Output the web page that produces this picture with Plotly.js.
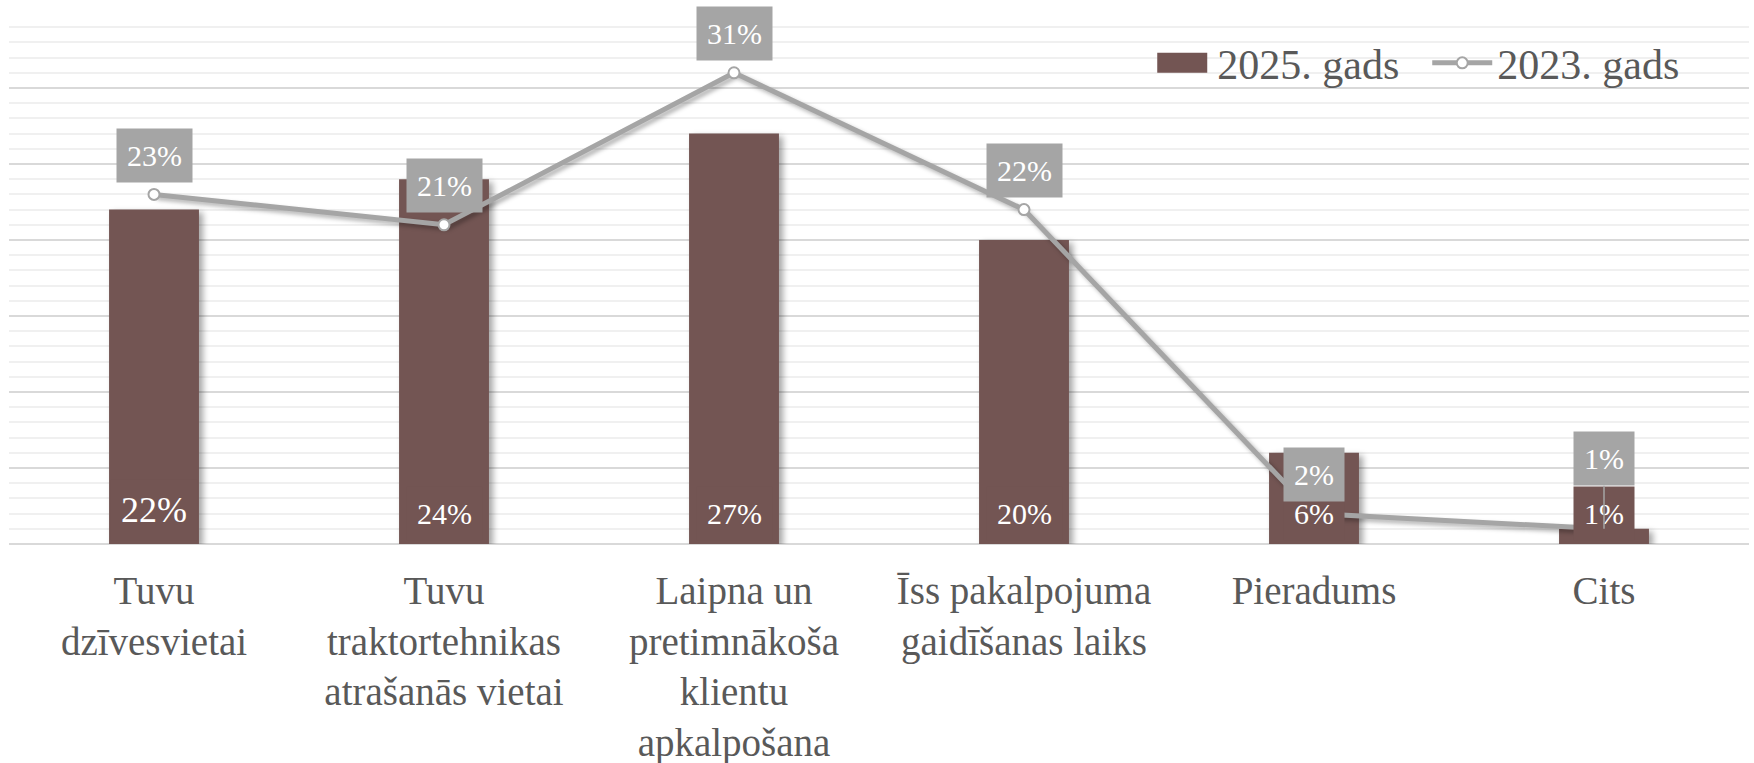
<!DOCTYPE html>
<html>
<head>
<meta charset="utf-8">
<script src="https://cdn.plot.ly/plotly-3.0.1.min.js"></script>
<style>
  html, body { margin: 0; padding: 0; background: #fff; }
  #chart { width: 1754px; height: 763px; }
  .barlayer .point path { filter: drop-shadow(4px 3px 3px rgba(0,0,0,0.35)); }
  .scatterlayer .js-line { filter: drop-shadow(3px 3px 2px rgba(0,0,0,0.3)); }
</style>
</head>
<body>
<div id="chart"></div>
<script>
const categories = [
    'Tuvu<br>dzīvesvietai',
    'Tuvu<br>traktortehnikas<br>atrašanās vietai',
    'Laipna un<br>pretimnākoša<br>klientu<br>apkalpošana',
    'Īss pakalpojuma<br>gaidīšanas laiks',
    'Pieradums',
    'Cits'
];
const values2025 = [22, 24, 27, 20, 6, 1];
const values2023 = [23, 21, 31, 22, 2, 1];

const BAR_COLOR = '#735553';
const LINE_COLOR = '#A5A5A5';
const TEXT_COLOR = '#595959';
const FONT = 'Liberation Serif, serif';

const bars = {
    x: categories,
    y: values2025,
    type: 'bar',
    name: '2025. gads',
    marker: { color: BAR_COLOR },
    width: 0.31,
    hoverinfo: 'skip'
};

const line = {
    x: categories,
    y: values2023,
    type: 'scatter',
    mode: 'lines+markers',
    name: '2023. gads',
    line: { color: LINE_COLOR, width: 5 },
    marker: { color: '#ffffff', size: 11, line: { color: LINE_COLOR, width: 2 } },
    hoverinfo: 'skip'
};

const annotations = [];

// 2025 labels near the base of each bar (boxed when they sit above a short bar)
values2025.forEach((v, i) => {
    annotations.push({
        x: categories[i],
        y: 0,
        yshift: i === 0 ? 34 : 31,
        yanchor: 'middle',
        text: v + '%',
        showarrow: false,
        bgcolor: BAR_COLOR,
        borderpad: 10,
        font: { family: FONT, size: i === 0 ? 36 : 30, color: '#ffffff' }
    });
});

// 2023 labels in grey boxes above the points
values2023.forEach((v, i) => {
    const last = i === values2023.length - 1;
    annotations.push({
        x: categories[i],
        y: v,
        text: v + '%',
        showarrow: last,
        arrowhead: 0,
        arrowwidth: 1.5,
        arrowcolor: LINE_COLOR,
        ax: 0,
        ay: -70,
        yshift: last ? 0 : 39,
        yanchor: 'middle',
        bgcolor: LINE_COLOR,
        borderpad: 10,
        font: { family: FONT, size: 30, color: '#ffffff' }
    });
});

const layout = {
    width: 1754,
    height: 763,
    margin: { l: 9, r: 5, t: 12, b: 219 },
    paper_bgcolor: '#ffffff',
    plot_bgcolor: '#ffffff',
    font: { family: FONT, color: TEXT_COLOR },
    showlegend: true,
    legend: {
        orientation: 'h',
        x: 0.976,
        xanchor: 'right',
        y: 0.968,
        yanchor: 'top',
        font: { family: FONT, size: 42, color: TEXT_COLOR },
        bgcolor: 'rgba(0,0,0,0)',
        itemwidth: 60,
        entrywidth: 205,
        traceorder: 'normal'
    },
    xaxis: {
        type: 'category',
        range: [-0.5, 5.5],
        showgrid: false,
        showline: false,
        zeroline: false,
        ticks: 'outside',
        ticklen: 12,
        tickcolor: 'rgba(0,0,0,0)',
        tickfont: { family: FONT, size: 39, color: TEXT_COLOR },
        automargin: false
    },
    yaxis: {
        range: [0, 35],
        dtick: 5,
        showticklabels: false,
        showgrid: true,
        gridcolor: '#D9D9D9',
        gridwidth: 2,
        zeroline: true,
        zerolinecolor: '#D9D9D9',
        zerolinewidth: 2,
        minor: { dtick: 1, showgrid: true, gridcolor: '#F0F0F0', gridwidth: 2 },
        fixedrange: true
    },
    annotations: annotations
};

Plotly.newPlot('chart', [bars, line], layout, { displayModeBar: false, staticPlot: true })
    .then(gd => {
        // widen the bar swatch in the legend to a flat rectangle
        const first = gd.querySelector('.legend .traces');
        const swatch = first && first.querySelector('.legendpoints path');
        if (swatch) swatch.setAttribute('d', 'M25,10H-25V-10H25Z');
    });
</script>
</body>
</html>
